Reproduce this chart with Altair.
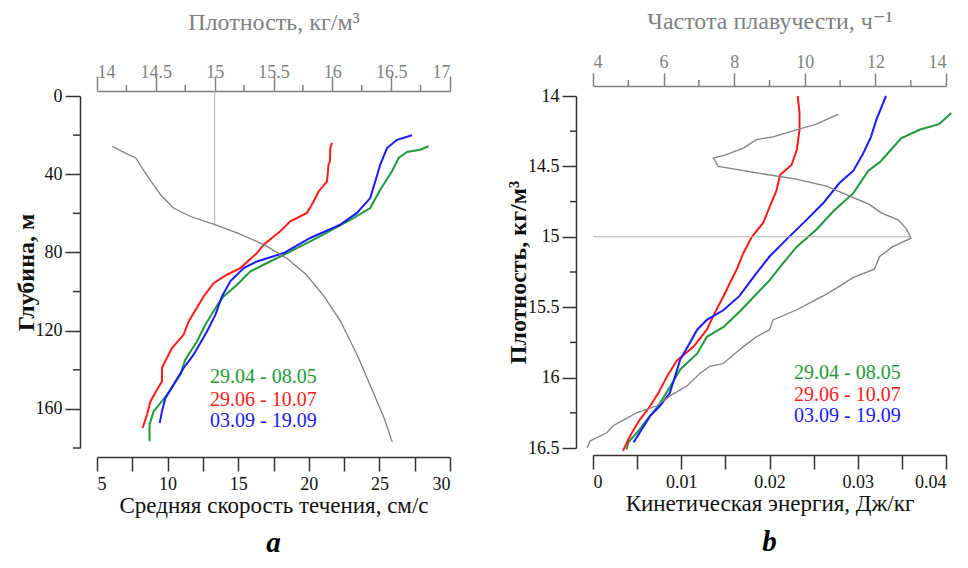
import altair as alt
import pandas as pd

FONT = "'Liberation Serif', 'Times New Roman', 'DejaVu Serif', serif"
SERIES = ["29.04 - 08.05", "29.06 - 10.07", "03.09 - 19.09"]
COLORS = ["#1e9a3c", "#ff1a1a", "#1a1aff"]
GRAY = "#808080"
DARK = "#333333"

# ---------------- Panel a: mean current speed vs depth ----------------
a_green_depth = [25.7, 27.5, 28.6, 31.7, 38.5, 47.9, 57.3, 63.3, 72.6, 81.2, 86.3, 89.7, 96.5,
                 102.5, 105.9, 117, 125.5, 134.9, 142.6, 152.8, 161.3, 168.1, 176.6]
a_green_speed = [28.48, 27.89, 26.95, 26.36, 25.89, 25.06, 24.35, 22.94, 20.58, 18.22, 16.8, 15.86, 14.92,
                 13.97, 13.61, 12.67, 12.08, 11.25, 10.9, 9.96, 9.01, 8.72, 8.72]
a_red_depth = [24, 26.6, 33.4, 35, 43.6, 48.8, 53.9, 59.8, 64.1, 69.2, 76, 80.3, 88, 91.4, 95.7,
               102.5, 115.3, 122, 128.9, 139, 146, 150.2, 156.2, 163, 169.8]
a_red_speed = [21.64, 21.52, 21.5, 21.4, 21.29, 20.7, 20.34, 19.87, 18.69, 17.98, 16.8, 16.33, 15.15, 14.2, 13.26,
               12.55, 11.49, 11.14, 10.31, 9.6, 9.6, 9.25, 8.78, 8.54, 8.23]
a_blue_depth = [20.1, 22.4, 26.6, 35.1, 43.6, 52.2, 59.8, 65.8, 72.6, 80.3, 84.6, 88, 94.8, 102.5,
                111.9, 120.4, 132.3, 139.1, 146, 154.5, 161.3, 167.3]
a_blue_speed = [27.31, 26.25, 25.54, 25.06, 24.71, 24.35, 23.41, 22.23, 20.1, 18.22, 16.33, 15.39, 14.44, 13.85,
                13.38, 12.79, 11.84, 11.14, 10.55, 9.84, 9.6, 9.44]
a_dens_depth = [25.7, 29.2, 31.7, 40.2, 50.5, 57.3, 61.5, 65.5, 70, 76, 82.9, 91.4, 102.5, 115.2,
                132.3, 147.7, 164.7, 177]
a_dens_value = [14.13, 14.24, 14.33, 14.42, 14.54, 14.65, 14.79, 14.99, 15.19, 15.42, 15.61, 15.78, 15.93, 16.07,
                16.21, 16.32, 16.44, 16.51]
a_ref_rho = 15.0
a_ref_depth = [-2.5, 65.5]

# ---------------- Panel b: kinetic energy vs density ----------------
b_green_rho = [14.12, 14.20, 14.24, 14.30, 14.38, 14.47, 14.53, 14.69, 14.82, 14.95, 15.07, 15.19, 15.31,
               15.42, 15.52, 15.64, 15.71, 15.83, 15.94, 16.08, 16.20, 16.30, 16.39, 16.46, 16.51]
b_green_e = [0.0406, 0.0392, 0.0370, 0.0349, 0.0338, 0.0325, 0.0312, 0.0295, 0.0272, 0.0253, 0.0231, 0.0215, 0.0200,
             0.0183, 0.0168, 0.0148, 0.0129, 0.0118, 0.0099, 0.0086, 0.0074, 0.0061, 0.0050, 0.0040, 0.0038]
b_red_rho = [14.0, 14.12, 14.24, 14.38, 14.49, 14.56, 14.67, 14.79, 14.90, 15.0, 15.12, 15.23, 15.33,
             15.42, 15.54, 15.66, 15.78, 15.88, 15.99, 16.11, 16.20, 16.30, 16.37, 16.44, 16.52]
b_red_e = [0.0232, 0.0234, 0.0234, 0.0231, 0.0225, 0.0212, 0.0208, 0.0200, 0.0193, 0.0180, 0.0170, 0.0163, 0.0155,
           0.0148, 0.0138, 0.0129, 0.0114, 0.0095, 0.0084, 0.0074, 0.0065, 0.0053, 0.0046, 0.0040, 0.0034]
b_blue_rho = [14.0, 14.17, 14.29, 14.41, 14.53, 14.62, 14.76, 14.88, 15.02, 15.14, 15.26, 15.42, 15.52,
              15.59, 15.66, 15.75, 15.87, 15.99, 16.11, 16.20, 16.27, 16.37, 16.46]
b_blue_e = [0.0332, 0.0321, 0.0315, 0.0306, 0.0295, 0.0279, 0.0261, 0.0242, 0.0219, 0.0200, 0.0185, 0.0166, 0.0148,
            0.0129, 0.0118, 0.0110, 0.0099, 0.0093, 0.0087, 0.0076, 0.0065, 0.0055, 0.0046]
b_buoy_rho = [14.13, 14.20, 14.24, 14.29, 14.31, 14.37, 14.42, 14.44, 14.50, 14.55, 14.59, 14.64, 14.72, 14.77,
              14.83, 14.88, 14.94, 15.01, 15.07, 15.14, 15.23, 15.29, 15.35, 15.42, 15.52, 15.59, 15.66, 15.71,
              15.78, 15.90, 15.92, 15.97, 16.06, 16.13, 16.20, 16.25, 16.30, 16.34, 16.39, 16.45, 16.50]
b_buoy_n = [10.94, 10.33, 9.76, 9.10, 8.63, 8.26, 7.74, 7.41, 7.55, 8.73, 9.76, 10.61, 11.36, 11.83,
            12.16, 12.64, 12.87, 13.01, 12.49, 12.12, 11.97, 11.36, 10.99, 10.52, 9.76, 9.10, 9.00, 8.63,
            8.26, 7.69, 7.31, 7.03, 6.66, 6.18, 5.81, 5.24, 4.87, 4.58, 4.40, 3.92, 3.83]
b_ref_rho = 15.0
b_ref_n = [4.0, 13.01]

# tick values (major = labelled, minor = short unlabelled)
a_depth_major = [0, 40, 80, 120, 160]
a_depth_minor = [20, 60, 100, 140, 180]
a_speed_ticks = [5, 7.5, 10, 12.5, 15, 17.5, 20, 22.5, 25, 27.5, 30]
a_rho_major = [14, 14.5, 15, 15.5, 16, 16.5, 17]
a_rho_minor = [14.25, 14.75, 15.25, 15.75, 16.25, 16.75]
b_rho_major = [14, 14.5, 15, 15.5, 16, 16.5]
b_rho_minor = [14.25, 14.75, 15.25, 15.75, 16.25]
b_e_ticks = [0, 0.005, 0.01, 0.015, 0.02, 0.025, 0.03, 0.035, 0.04]
b_n_major = [4, 6, 8, 10, 12, 14]
b_n_minor = [5, 7, 9, 11, 13]

W, H = 353, 352
PLAIN = "format(datum.value, '')"


def profile_df(pairs, xname, yname):
    rows = []
    for name, ys, xs in pairs:
        for i, (yv, xv) in enumerate(zip(ys, xs)):
            rows.append({"series": name, yname: yv, xname: xv, "idx": i})
    return pd.DataFrame(rows)


color_enc = alt.Color("series:N", scale=alt.Scale(domain=SERIES, range=COLORS), legend=None)


def legend_layers(x0, ys):
    out = []
    for name, col, yy in zip(SERIES, COLORS, ys):
        out.append(alt.Chart(pd.DataFrame({"t": [name]})).mark_text(
            align="left", baseline="middle", font=FONT, fontSize=20, color=col).encode(
            text="t:N", x=alt.value(x0), y=alt.value(yy)))
    return out


def letter_layer(letter, x0, y0):
    return alt.Chart(pd.DataFrame({"t": [letter]})).mark_text(
        align="center", baseline="middle", font=FONT, fontSize=29, fontStyle="italic",
        fontWeight="bold", color="black").encode(text="t:N", x=alt.value(x0), y=alt.value(y0))


def top_axis(title, values, offset, tick, label_pad, title_pad):
    return alt.Axis(title=title, values=values, orient="top", offset=offset, labelExpr=PLAIN,
                    tickSize=tick, labelPadding=label_pad, titlePadding=title_pad,
                    domainColor=GRAY, tickColor=GRAY, labelColor=GRAY, titleColor=GRAY,
                    labelFontSize=18, titleFontSize=24)


def left_axis(title, values, tick):
    return alt.Axis(title=title, values=values, offset=17, tickSize=tick, labelExpr=PLAIN,
                    labelPadding=3, titlePadding=-3, titleFontSize=24, titleFontWeight="bold")


def bottom_axis(title, values, offset, major_test):
    return alt.Axis(title=title, values=values, orient="bottom", offset=offset, tickSize=14,
                    labelPadding=4, titlePadding=1,
                    labelExpr="(" + major_test + ") ? " + PLAIN + " : ''",
                    titleFontSize=23)


# ---------- panel a ----------
df_a = profile_df([(SERIES[0], a_green_depth, a_green_speed),
                   (SERIES[1], a_red_depth, a_red_speed),
                   (SERIES[2], a_blue_depth, a_blue_speed)], "speed", "depth")
df_ga = pd.DataFrame({"depth": a_dens_depth, "rho": a_dens_value})
df_ra = pd.DataFrame({"rho": [a_ref_rho], "depth": [a_ref_depth[0]], "depth2": [a_ref_depth[1]]})

y_scale_a = alt.Scale(domain=[0, 180], reverse=True, nice=False, zero=False)
y_a = alt.Y("depth:Q", scale=y_scale_a, axis=left_axis("Глубина, м", a_depth_major, 15))

x_a = alt.X("speed:Q", scale=alt.Scale(domain=[5, 30], nice=False, zero=False),
            axis=bottom_axis("Средняя скорость течения, см/с", a_speed_ticks, 9,
                             "datum.value % 5 == 0"))
rho_scale_a = alt.Scale(domain=[14, 17], nice=False, zero=False)
x_rho_a = alt.X("rho:Q", scale=rho_scale_a,
                axis=top_axis("Плотность, кг/м³", a_rho_major, 5, 15, -5, 29))

lines_a = alt.Chart(df_a).mark_line(strokeWidth=2).encode(
    x=x_a, y=y_a, color=color_enc, order="idx:Q")
gray_a = alt.Chart(df_ga).mark_line(color=GRAY, strokeWidth=1.3).encode(
    x=x_rho_a, y=y_a, order="depth:Q")
rule_a = alt.Chart(df_ra).mark_rule(color="#b0b0b0", strokeWidth=1).encode(
    x=x_rho_a, y=y_a, y2="depth2:Q")
minor_top_a = alt.Chart(pd.DataFrame({"rho": a_rho_minor})).mark_rule(color=GRAY, strokeWidth=1.5).encode(
    x=x_rho_a, y=alt.value(-5), y2=alt.value(-11))
minor_left_a = alt.Chart(pd.DataFrame({"depth": a_depth_minor})).mark_rule(color=DARK, strokeWidth=1.5).encode(
    y=y_a, x=alt.value(-17), x2=alt.value(-24))

panel_a = alt.layer(lines_a, alt.layer(gray_a, rule_a, minor_top_a), minor_left_a,
                    *legend_layers(113, [281, 304, 325]),
                    letter_layer("a", W / 2, 447)).resolve_scale(x="independent").properties(
    width=W, height=H)

# ---------- panel b ----------
df_b = profile_df([(SERIES[0], b_green_rho, b_green_e),
                   (SERIES[1], b_red_rho, b_red_e),
                   (SERIES[2], b_blue_rho, b_blue_e)], "energy", "rho")
df_gb = pd.DataFrame({"rho": b_buoy_rho, "n": b_buoy_n})
df_rb = pd.DataFrame({"rho": [b_ref_rho], "n": [b_ref_n[0]], "n2": [b_ref_n[1]]})

y_scale_b = alt.Scale(domain=[14, 16.5], reverse=True, nice=False, zero=False)
y_b = alt.Y("rho:Q", scale=y_scale_b, axis=left_axis("Плотность, кг/м³", b_rho_major, 14))

x_b = alt.X("energy:Q", scale=alt.Scale(domain=[0, 0.04], nice=False, zero=False),
            axis=bottom_axis("Кинетическая энергия, Дж/кг", b_e_ticks, 7,
                             "abs(datum.value*100 - round(datum.value*100)) < 0.001"))
n_scale_b = alt.Scale(domain=[4, 14], nice=False, zero=False)
x_n_b = alt.X("n:Q", scale=n_scale_b,
              axis=top_axis("Частота плавучести, ч⁻¹", b_n_major, 10, 13, 2, 20))

lines_b = alt.Chart(df_b).mark_line(strokeWidth=2).encode(
    x=x_b, y=y_b, color=color_enc, order="idx:Q")
gray_b = alt.Chart(df_gb).mark_line(color=GRAY, strokeWidth=1.3).encode(
    x=x_n_b, y=y_b, order="rho:Q")
rule_b = alt.Chart(df_rb).mark_rule(color="#b0b0b0", strokeWidth=1).encode(
    x=x_n_b, x2="n2:Q", y=y_b)
minor_top_b = alt.Chart(pd.DataFrame({"n": b_n_minor})).mark_rule(color=GRAY, strokeWidth=1.5).encode(
    x=x_n_b, y=alt.value(-10), y2=alt.value(-16))
minor_left_b = alt.Chart(pd.DataFrame({"rho": b_rho_minor})).mark_rule(color=DARK, strokeWidth=1.5).encode(
    y=y_b, x=alt.value(-17), x2=alt.value(-23))

panel_b = alt.layer(lines_b, alt.layer(gray_b, rule_b, minor_top_b), minor_left_b,
                    *legend_layers(201, [277, 299, 320]),
                    letter_layer("b", W / 2, 446)).resolve_scale(x="independent").properties(
    width=W, height=H)

chart = alt.hconcat(panel_a, panel_b, spacing=143, bounds="flush").properties(
    padding={"left": 6, "top": 1, "right": 0, "bottom": 0}
).configure_view(stroke=None).configure_axis(
    labelFont=FONT, titleFont=FONT, labelFontSize=18, titleFontSize=22, titleFontWeight="normal",
    domainColor=DARK, tickColor=DARK, labelColor="#111111", titleColor="#111111",
    domainWidth=1.5, tickWidth=1.5, grid=False
)

chart.save("out.html", embed_options={"renderer": "svg", "actions": False})
